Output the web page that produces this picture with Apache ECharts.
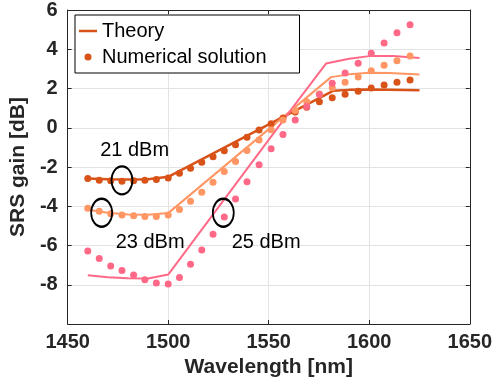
<!DOCTYPE html>
<html>
<head>
<meta charset="utf-8">
<script src="https://cdn.jsdelivr.net/npm/echarts@6/dist/echarts.min.js"></script>
<style>
  html, body { margin: 0; padding: 0; background: #fff; }
  #chart { width: 495px; height: 385px; }
</style>
</head>
<body>
<div id="chart"></div>
<script>
// numerical solution, sampled wavelengths (nm)
const wavelengthNm = [1460, 1465.7, 1471.4, 1477, 1482.8, 1488.4, 1494.1, 1500, 1505.6, 1511.1,
  1516.7, 1522.3, 1527.9, 1533.5, 1539.2, 1545.2, 1551.2, 1557.1, 1563.2, 1568.9,
  1575.2, 1581.6, 1588, 1594.5, 1601, 1607.4, 1613.8, 1620.3];

const gain21Numerical = [-2.58, -2.67, -2.7, -2.72, -2.7, -2.67, -2.64, -2.56, -2.32, -2.06,
  -1.76, -1.48, -1.17, -0.86, -0.48, -0.12, 0.2, 0.5, 0.8, 1.05,
  1.32, 1.53, 1.71, 1.86, 2.03, 2.18, 2.32, 2.43];
const gain23Numerical = [-4.1, -4.25, -4.38, -4.45, -4.49, -4.52, -4.52, -4.44, -4.17, -3.75,
  -3.29, -2.78, -2.23, -1.72, -1.16, -0.62, -0.1, 0.4, 0.88, 1.32,
  1.72, 2.04, 2.32, 2.58, 2.9, 3.18, 3.42, 3.65];
const gain25Numerical = [-6.28, -6.66, -7.04, -7.27, -7.5, -7.75, -7.91, -7.96, -7.63, -6.95,
  -6.23, -5.43, -4.55, -3.63, -2.75, -1.89, -1.07, -0.35, 0.39, 1.08,
  1.7, 2.27, 2.79, 3.29, 3.8, 4.32, 4.84, 5.25];

// theory curves
const theory21Nm = [1460, 1470, 1480, 1490, 1500, 1582, 1590, 1600, 1610, 1625];
const theory21Gain = [-2.58, -2.62, -2.64, -2.62, -2.5, 1.88, 1.93, 1.95, 1.94, 1.91];
const theory23Nm = [1460, 1470, 1480, 1490, 1500, 1581, 1590, 1600, 1610, 1625];
const theory23Gain = [-4.18, -4.33, -4.42, -4.43, -4.35, 2.58, 2.72, 2.8, 2.79, 2.71];
const theory25Nm = [1460, 1470, 1480, 1490, 1500, 1565, 1578.5, 1590, 1600, 1612, 1625];
const theory25Gain = [-7.52, -7.62, -7.67, -7.68, -7.48, 1.45, 3.27, 3.52, 3.65, 3.66, 3.55];

// annotations
const powerLabels = ["21 dBm", "23 dBm", "25 dBm"];
const powerLabelNm = [1483.3, 1491, 1548.7];
const powerLabelGain = [-1.15, -5.85, -5.85];
const ellipseNm = [1477, 1466.9, 1527.4];
const ellipseGain = [-2.68, -4.33, -4.33];

const colors = { p21: "#D95319", p23: "#FF9664", p25: "#FF6987" };
const axisColor = "#262626";
const font = "'Liberation Sans', Arial, sans-serif";

function pairs(xs, ys) {
  return xs.map((x, i) => [x, ys[i]]);
}

function theorySeries(xs, ys, color, width) {
  return {
    name: "Theory",
    type: "line",
    data: pairs(xs, ys),
    showSymbol: false,
    symbol: "none",
    smooth: false,
    lineStyle: { color: color, width: width },
    itemStyle: { color: color },
    z: 2,
  };
}

function dotSeries(ys, color) {
  return {
    name: "Numerical solution",
    type: "scatter",
    data: pairs(wavelengthNm, ys),
    symbol: "circle",
    symbolSize: 7,
    itemStyle: { color: color, opacity: 1 },
    z: 3,
  };
}

const chart = echarts.init(document.getElementById("chart"), null, { renderer: "canvas" });

const hiddenAxisBits = {
  axisLabel: { show: false },
  splitLine: { show: false },
  axisLine: { show: true, onZero: false, lineStyle: { color: axisColor, width: 1 } },
  axisTick: { show: true, inside: true, length: 4, lineStyle: { color: axisColor } },
};

chart.setOption({
  animation: false,
  backgroundColor: "#fff",
  textStyle: { fontFamily: font },
  grid: { left: 62, right: 18, top: 8, bottom: 61, containLabel: false },
  legend: {
    data: [
      { name: "Theory", icon: "path://M0 0H18V2.5H0Z" },
      { name: "Numerical solution", icon: "circle" },
    ],
    orient: "vertical",
    left: 75,
    top: 15,
    padding: [5, 33, 5, 4],
    itemGap: 4,
    itemWidth: 18,
    itemHeight: 7,
    selectedMode: false,
    backgroundColor: "#fff",
    borderColor: "#000",
    borderWidth: 1,
    borderRadius: 0,
    textStyle: { fontFamily: font, fontSize: 20, color: "#000", lineHeight: 22 },
  },
  xAxis: [
    {
      type: "value",
      min: 1450,
      max: 1650,
      interval: 50,
      name: "Wavelength [nm]",
      nameLocation: "middle",
      nameGap: 31,
      nameTextStyle: { fontFamily: font, fontSize: 21, fontWeight: "bold", color: axisColor },
      axisLine: { show: true, onZero: false, lineStyle: { color: axisColor, width: 1 } },
      axisTick: { show: true, inside: true, length: 4, lineStyle: { color: axisColor } },
      axisLabel: {
        margin: 8,
        formatter: (v) => String(v),
        fontFamily: font,
        fontSize: 20,
        fontWeight: "bold",
        color: axisColor,
      },
      splitLine: { show: true, lineStyle: { color: "#E3E3E3", width: 1 } },
    },
    Object.assign({ type: "value", min: 1450, max: 1650, interval: 50, position: "top" }, hiddenAxisBits),
  ],
  yAxis: [
    {
      type: "value",
      min: -10,
      max: 6,
      interval: 2,
      name: "SRS gain [dB]",
      nameLocation: "middle",
      nameGap: 32,
      nameTextStyle: { fontFamily: font, fontSize: 21, fontWeight: "bold", color: axisColor },
      axisLine: { show: true, onZero: false, lineStyle: { color: axisColor, width: 1 } },
      axisTick: { show: true, inside: true, length: 4, lineStyle: { color: axisColor } },
      axisLabel: { margin: 10, showMinLabel: false, fontFamily: font, fontSize: 20, fontWeight: "bold", color: axisColor },
      splitLine: { show: true, lineStyle: { color: "#E3E3E3", width: 1 } },
    },
    Object.assign({ type: "value", min: -10, max: 6, interval: 2, position: "right" }, hiddenAxisBits),
  ],
  series: [
    theorySeries(theory21Nm, theory21Gain, colors.p21, 2.5),
    theorySeries(theory23Nm, theory23Gain, colors.p23, 2),
    theorySeries(theory25Nm, theory25Gain, colors.p25, 2),
    dotSeries(gain21Numerical, colors.p21),
    dotSeries(gain23Numerical, colors.p23),
    dotSeries(gain25Numerical, colors.p25),
    {
      name: "ellipses",
      type: "scatter",
      silent: true,
      data: pairs(ellipseNm, ellipseGain),
      symbol: "circle",
      symbolSize: [21, 28],
      itemStyle: { color: "rgba(0,0,0,0)", borderColor: "#000", borderWidth: 2, opacity: 1 },
      z: 5,
    },
    {
      name: "labels",
      type: "scatter",
      silent: true,
      data: powerLabels.map((t, i) => ({ name: t, value: [powerLabelNm[i], powerLabelGain[i]] })),
      symbolSize: 0,
      itemStyle: { opacity: 1 },
      label: {
        show: true,
        position: "inside",
        formatter: (p) => p.name,
        fontFamily: font,
        fontSize: 20,
        color: "#000",
      },
      z: 6,
    },
  ],
});
</script>
</body>
</html>
